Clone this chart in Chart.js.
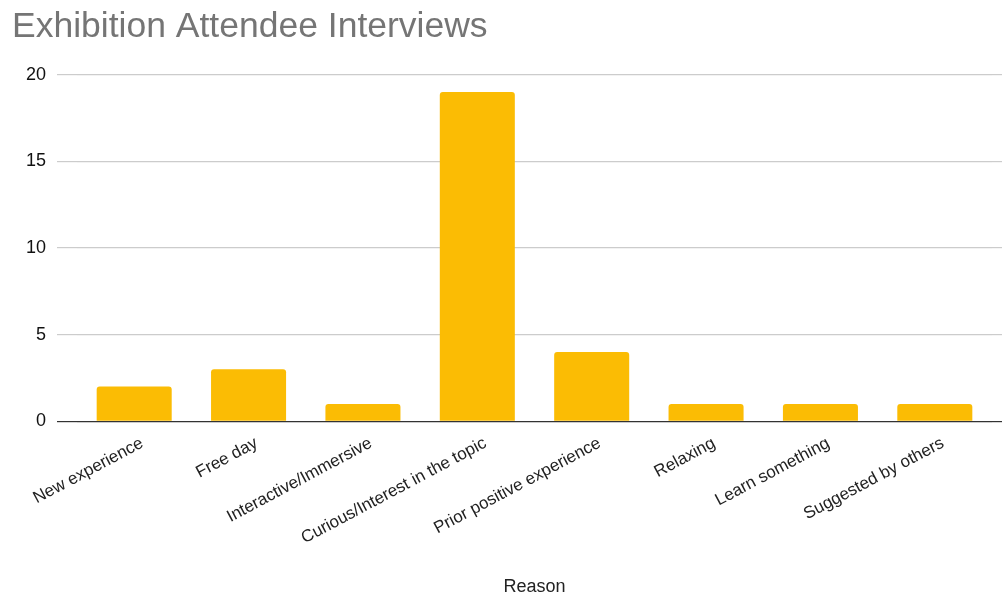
<!DOCTYPE html>
<html>
<head>
<meta charset="utf-8">
<script src="https://cdn.jsdelivr.net/npm/chart.js@4/dist/chart.umd.min.js"></script>
<style>
  html, body { margin: 0; padding: 0; background: #fff; }
  #wrap { width: 1002px; height: 600px; }
</style>
</head>
<body>
<div id="wrap"><canvas id="myChart"></canvas></div>
<script>
const reasons = [
  'New experience', 'Free day', 'Interactive/Immersive', 'Curious/Interest in the topic',
  'Prior positive experience', 'Relaxing', 'Learn something', 'Suggested by others'
];
const counts = [2, 3, 1, 19, 4, 1, 1, 1];
const yTicks = [0, 5, 10, 15, 20];

const font = '"Liberation Sans", Arial, Helvetica, sans-serif';

new Chart(document.getElementById('myChart'), {
  type: 'bar',
  data: {
    labels: reasons,
    datasets: [{
      data: counts,
      backgroundColor: '#fbbc04',
      borderRadius: 3,
      categoryPercentage: 1,
      barPercentage: 0.656
    }]
  },
  options: {
    responsive: true,
    maintainAspectRatio: false,
    animation: false,
    layout: { padding: { left: 12, right: 0, top: 6, bottom: 2 } },
    plugins: {
      legend: { display: false },
      tooltip: { enabled: false },
      title: {
        display: true,
        text: 'Exhibition Attendee Interviews',
        align: 'start',
        color: '#757575',
        font: { family: font, size: 35.5, weight: 'normal' },
        padding: { top: 0, bottom: 26 }
      }
    },
    scales: {
      x: {
        grid: { display: false, drawTicks: false },
        border: { display: false },
        ticks: {
          color: '#222',
          font: { family: font, size: 17 },
          minRotation: 28,
          maxRotation: 28,
          autoSkip: false,
          padding: 12,
          labelOffset: 8
        },
        title: {
          display: true,
          text: 'Reason',
          color: '#222',
          font: { family: font, size: 18 },
          padding: { top: 16, bottom: 0 }
        }
      },
      y: {
        min: 0,
        max: 20,
        afterBuildTicks: s => { s.ticks = yTicks.map(v => ({ value: v })); },
        afterFit: s => { s.width = 65; },
        border: { display: false },
        grid: {
          color: c => c.tick && c.tick.value === 0 ? '#333' : '#cccccc',
          lineWidth: 1.2,
          tickLength: 20
        },
        ticks: {
          color: '#111',
          font: { family: font, size: 18 },
          padding: 11
        }
      },
      // tick marks only: carries the gridlines out to the right edge
      yRight: {
        position: 'right',
        min: 0,
        max: 20,
        afterBuildTicks: s => { s.ticks = yTicks.map(v => ({ value: v })); },
        border: { display: false },
        grid: {
          drawOnChartArea: false,
          color: c => c.tick && c.tick.value === 0 ? '#333' : '#cccccc',
          lineWidth: 1.2,
          tickLength: 10
        },
        ticks: { display: false }
      }
    }
  }
});
</script>
</body>
</html>
